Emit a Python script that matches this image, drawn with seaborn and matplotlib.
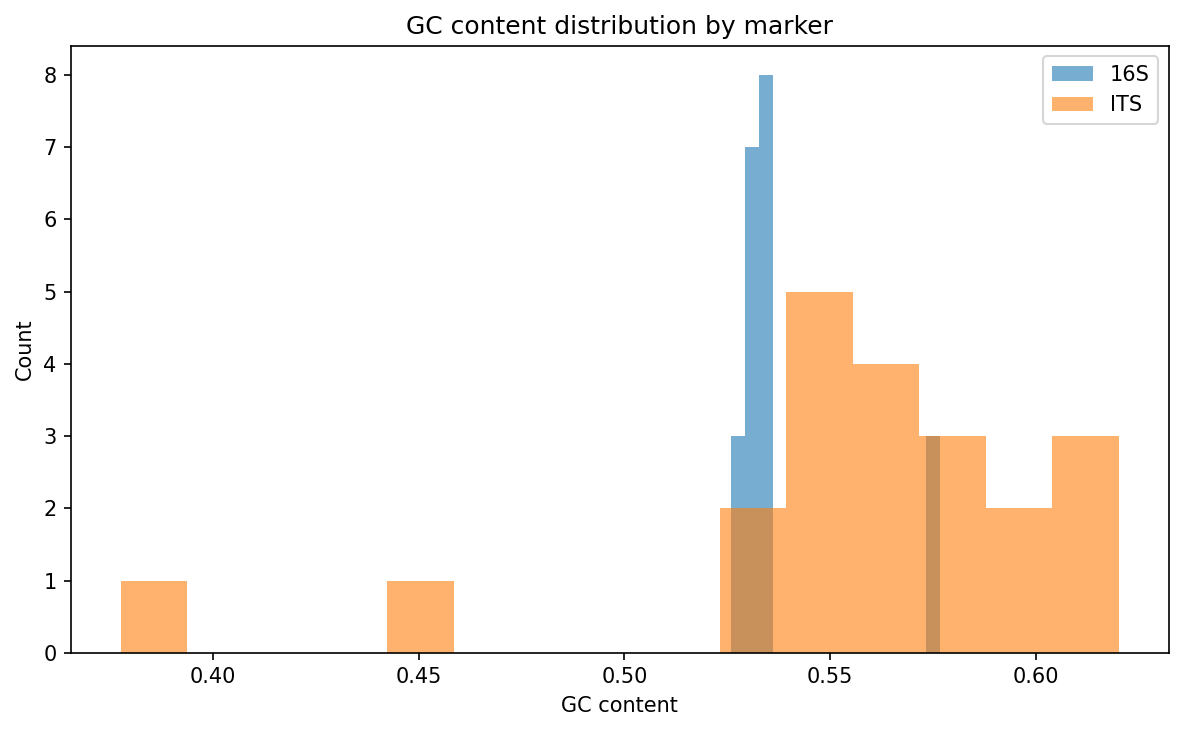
import numpy as np
import matplotlib
matplotlib.use("Agg")
import matplotlib.pyplot as plt
import seaborn as sns

# histogram counts (15 equal bins per marker)
markers = ["16S", "ITS"]
range_16s = (0.5259, 0.5766)
counts_16s = [3, 7, 8, 0, 0, 0, 0, 0, 0, 0, 0, 0, 0, 0, 3]
range_its = (0.3777, 0.6201)
counts_its = [1, 0, 0, 0, 1, 0, 0, 0, 0, 2, 5, 4, 3, 2, 3]

n_bins = 15

fig = plt.figure(figsize=(1184 / 150, 731 / 150), dpi=150)
ax = fig.add_axes([0.060, 0.107, 0.927, 0.830])

for name, rng, counts, color in [
    ("16S", range_16s, counts_16s, "#1f77b4"),
    ("ITS", range_its, counts_its, "#ff7f0e"),
]:
    edges = np.linspace(rng[0], rng[1], n_bins + 1)
    centers = (edges[:-1] + edges[1:]) / 2
    sns.histplot(x=centers, weights=counts, bins=n_bins, binrange=rng, ax=ax,
                 color=color, alpha=0.6, linewidth=0, label=name)

ax.set_title("GC content distribution by marker")
ax.set_xlabel("GC content")
ax.set_ylabel("Count")
ax.legend(loc="upper right")

fig.savefig("out.png", dpi=150)
